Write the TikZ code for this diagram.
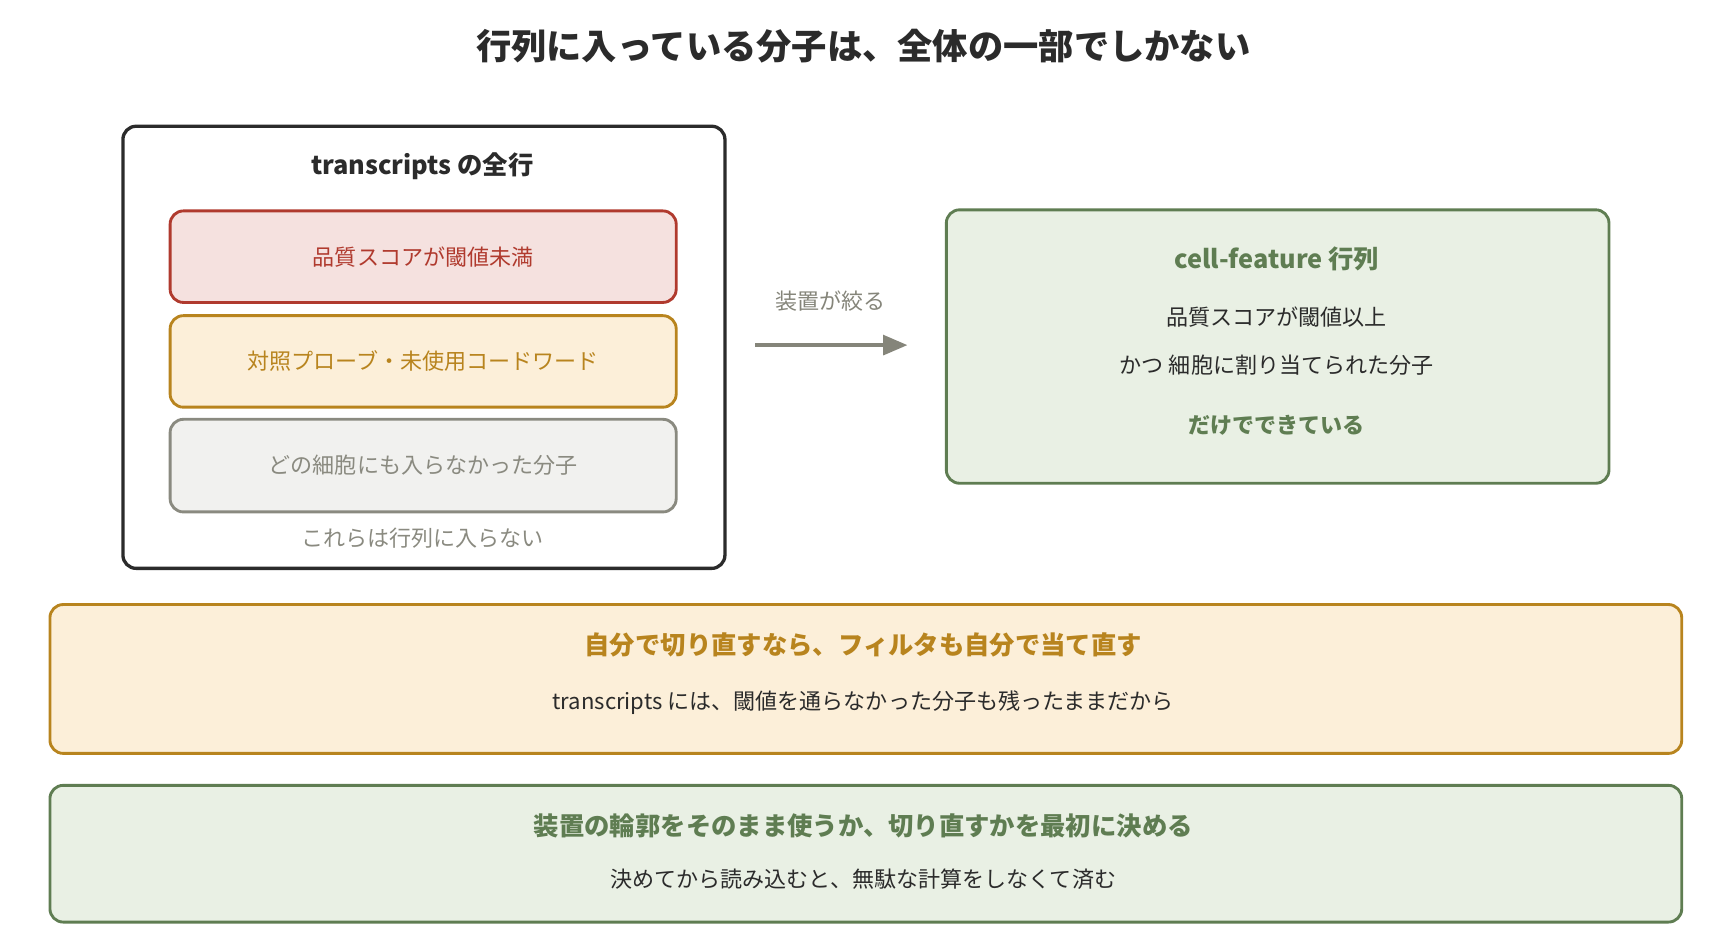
\documentclass[tikz,border=0pt]{standalone}
\usepackage{fontspec}
\setmainfont{Noto Sans CJK JP}
\usetikzlibrary{positioning,arrows.meta}
\definecolor{inkdark}{HTML}{2B2B2B}
\definecolor{redline}{HTML}{B03A2E}
\definecolor{redfill}{HTML}{F5E1DF}
\definecolor{orline}{HTML}{B8841E}
\definecolor{orfill}{HTML}{FCEFD9}
\definecolor{grline}{HTML}{8A8A80}
\definecolor{grfill}{HTML}{F1F1EF}
\definecolor{gnline}{HTML}{5F7D52}
\definecolor{gnfill}{HTML}{E9F0E4}
\definecolor{arrowgray}{HTML}{85857A}
\tikzset{
  box/.style={draw, rounded corners=6pt, line width=1.3pt, anchor=north west, inner sep=0pt},
  txt/.style={font=\fontsize{10}{12}\selectfont, text=inkdark},
  head/.style={font=\bfseries\fontsize{11.5}{14}\selectfont},
}
\begin{document}
\begin{tikzpicture}[x=0.5pt,y=-0.5pt]
\useasboundingbox (0,0) rectangle (1560,851);

\node[font=\bfseries\fontsize{16}{19}\selectfont, text=inkdark] (title) at (783,42) {行列に入っている分子は、全体の一部でしかない};

% left block
\node[box, draw=inkdark, line width=1.5pt, minimum width=273pt, minimum height=200.5pt] (outer) at (110,113) {};
\node[head, text=inkdark] (outerhead) at (383,151) {transcripts の全行};
\node[box, draw=redline, fill=redfill, minimum width=229.5pt, minimum height=41.5pt] (low) at (153,190) {};
\node[txt, text=redline] (lowtxt) at (low.center) {品質スコアが閾値未満};
\node[box, draw=orline, fill=orfill, minimum width=229.5pt, minimum height=41.5pt] (probe) at (153,285) {};
\node[txt, text=orline] (probetxt) at (probe.center) {対照プローブ・未使用コードワード};
\node[box, draw=grline, fill=grfill, minimum width=229.5pt, minimum height=42pt] (free) at (153,379) {};
\node[txt, text=grline] (freetxt) at (free.center) {どの細胞にも入らなかった分子};
\node[txt, text=grline] (outernote) at (383,488) {これらは行列に入らない};

% arrow
\draw[arrowgray, line width=1.5pt, -{Triangle[length=11pt,width=9pt]}, shorten <=13pt, shorten >=17pt] (outer.east |- 0,313) -- (857,313) coordinate (arrowend);
\node[txt, text=arrowgray] (arrowlbl) at (753,273) {装置が絞る};

% matrix block
\node[box, draw=gnline, fill=gnfill, minimum width=300.5pt, minimum height=124pt] (matrix) at (857,189) {};
\node[head, text=gnline] (matrixhead) at (1158,235) {cell-feature 行列};
\node[txt] (matrixa) at (1158,288) {品質スコアが閾値以上};
\node[txt] (matrixb) at (1158,331) {かつ 細胞に割り当てられた分子};
\node[txt, font=\bfseries\fontsize{10}{12}\selectfont, text=gnline] (matrixc) at (1158,386) {だけでできている};

% bottom notes
\node[box, draw=orline, fill=orfill, minimum width=740pt, minimum height=67.5pt] (refilter) at (44,547) {};
\node[head, text=orline] (refilterhead) at (783,585) {自分で切り直すなら、フィルタも自分で当て直す};
\node[txt] (refiltertxt) at (783,637) {transcripts には、閾値を通らなかった分子も残ったままだから};

\node[box, draw=gnline, fill=gnfill, minimum width=740pt, minimum height=62pt] (decide) at (44,711) {};
\node[head, text=gnline] (decidehead) at (783,749) {装置の輪郭をそのまま使うか、切り直すかを最初に決める};
\node[txt] (decidetxt) at (783,797) {決めてから読み込むと、無駄な計算をしなくて済む};
\end{tikzpicture}
\end{document}
